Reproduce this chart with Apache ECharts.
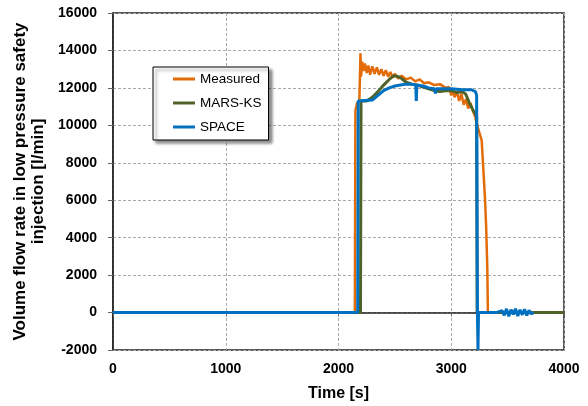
<!DOCTYPE html>
<html>
<head>
<meta charset="utf-8">
<script src="https://cdn.jsdelivr.net/npm/echarts@6/dist/echarts.min.js"></script>
<style>
  html, body { margin: 0; padding: 0; background: #fff; }
  #chart { width: 588px; height: 406px; }
</style>
</head>
<body>
<div id="chart"></div>
<script>
// values
const measuredTime = [0, 2145, 2150, 2165, 2185, 2195, 2200, 2210, 2220, 2235, 2250, 2265, 2280, 2300, 2320, 2340, 2360, 2380, 2400, 2420, 2440, 2460, 2480, 2500, 2530, 2560, 2600, 2640, 2680, 2720, 2760, 2800, 2850, 2900, 2950, 2980, 3000, 3010, 3030, 3050, 3070, 3090, 3110, 3130, 3150, 3170, 3190, 3210, 3230, 3250, 3270, 3285, 3300, 3310, 3320, 3325, 4000];
const measuredFlow = [0, 0, 10800, 11200, 11300, 13850, 12600, 13400, 12900, 13300, 12800, 13200, 12700, 13150, 12750, 13100, 12700, 13000, 12650, 12950, 12600, 12850, 12550, 12750, 12500, 12650, 12450, 12550, 12350, 12450, 12250, 12300, 12150, 12200, 12000, 12050, 11600, 11950, 11500, 11800, 11300, 11700, 11100, 11400, 10900, 11200, 10800, 10500, 10000, 9600, 9200, 7600, 6000, 4500, 2300, 0, 0];

const marsTime = [0, 2195, 2200, 2250, 2300, 2350, 2400, 2450, 2490, 2530, 2560, 2600, 2650, 2700, 2750, 2800, 2850, 2900, 2950, 3000, 3050, 3100, 3130, 3160, 3190, 3210, 3225, 3230, 4000];
const marsFlow = [0, 0, 11300, 11300, 11500, 11800, 12150, 12450, 12650, 12600, 12500, 12300, 12200, 12150, 12050, 11950, 11850, 11800, 11850, 11850, 11750, 11800, 11650, 11200, 10850, 10650, 10450, 0, 0];

const spaceTime = [0, 2170, 2175, 2300, 2350, 2400, 2450, 2500, 2550, 2600, 2650, 2685, 2690, 2695, 2750, 2800, 2850, 2860, 2865, 2900, 3000, 3100, 3180, 3215, 3225, 3232, 3237, 3242, 3400, 3450, 3470, 3490, 3510, 3530, 3550, 3570, 3590, 3610, 3630, 3650, 3670, 3690, 3710, 3730];
const spaceFlow = [0, 0, 11300, 11350, 11600, 11850, 12000, 12100, 12150, 12200, 12200, 12150, 11300, 12150, 12100, 12000, 11950, 11700, 11950, 11950, 11950, 11900, 11900, 11800, 11600, 0, -2000, 0, 0, 100, -150, 200, -200, 150, -100, 200, -180, 150, -120, 180, -150, 120, -80, 0];

const seriesNames = ['Measured', 'MARS-KS', 'SPACE'];
const seriesColors = ['#E36C09', '#4F6228', '#0070C0'];

const zip = (t, v) => t.map((x, i) => [x, v[i]]);
const seriesData = [zip(measuredTime, measuredFlow), zip(marsTime, marsFlow), zip(spaceTime, spaceFlow)];

const font = 'Liberation Sans, Arial, sans-serif';
const chart = echarts.init(document.getElementById('chart'));

chart.setOption({
  animation: false,
  grid: {
    left: 113, right: 24, top: 13, bottom: 56,
    outerBoundsMode: 'none',
    show: true, borderColor: '#222', borderWidth: 1.5
  },
  legend: {
    orient: 'vertical',
    left: 153, top: 67,
    padding: [5, 7, 6, 20],
    itemGap: 10,
    itemWidth: 22, itemHeight: 3,
    icon: 'rect',
    backgroundColor: '#fff',
    borderColor: '#000', borderWidth: 1,
    borderRadius: 0,
    shadowColor: 'rgba(0,0,0,0.45)', shadowBlur: 3, shadowOffsetX: 3, shadowOffsetY: 3,
    textStyle: { fontFamily: font, fontSize: 13.5, color: '#000' },
    data: seriesNames
  },
  xAxis: {
    type: 'value',
    min: 0, max: 4000, interval: 1000,
    name: 'Time [s]',
    nameLocation: 'middle',
    nameGap: 36,
    nameTextStyle: { fontFamily: font, fontSize: 16, fontWeight: 'bold', color: '#000' },
    axisLine: { show: true, lineStyle: { color: '#222', width: 1.5 } },
    axisTick: { show: true, inside: false, length: 4, lineStyle: { color: '#666' } },
    axisLabel: { fontFamily: font, fontSize: 14, fontWeight: 'bold', color: '#000', margin: 12, formatter: v => String(v) },
    splitLine: { show: true, lineStyle: { color: '#aaa', type: [3, 2], width: 1 } }
  },
  yAxis: {
    type: 'value',
    min: -2000, max: 16000, interval: 2000,
    name: 'Volume flow rate in low pressure safety\ninjection [l/min]',
    nameLocation: 'middle',
    nameGap: 63,
    nameTextStyle: { fontFamily: font, fontSize: 17, fontWeight: 'bold', color: '#000', lineHeight: 18 },
    axisLine: { show: true, lineStyle: { color: '#222', width: 1.5 } },
    axisTick: { show: true, inside: false, length: 5, lineStyle: { color: '#666' } },
    axisLabel: { fontFamily: font, fontSize: 14, fontWeight: 'bold', color: '#000', margin: 16, formatter: v => String(v) },
    splitLine: { show: true, lineStyle: { color: '#aaa', type: [3, 2], width: 1 } }
  },
  series: seriesNames.map((name, i) => ({
    name: name,
    type: 'line',
    data: seriesData[i],
    showSymbol: false,
    symbol: 'none',
    color: seriesColors[i],
    lineStyle: { color: seriesColors[i], width: i === 0 ? 2.5 : 3 },
    z: 2 + i
  }))
});
</script>
</body>
</html>
